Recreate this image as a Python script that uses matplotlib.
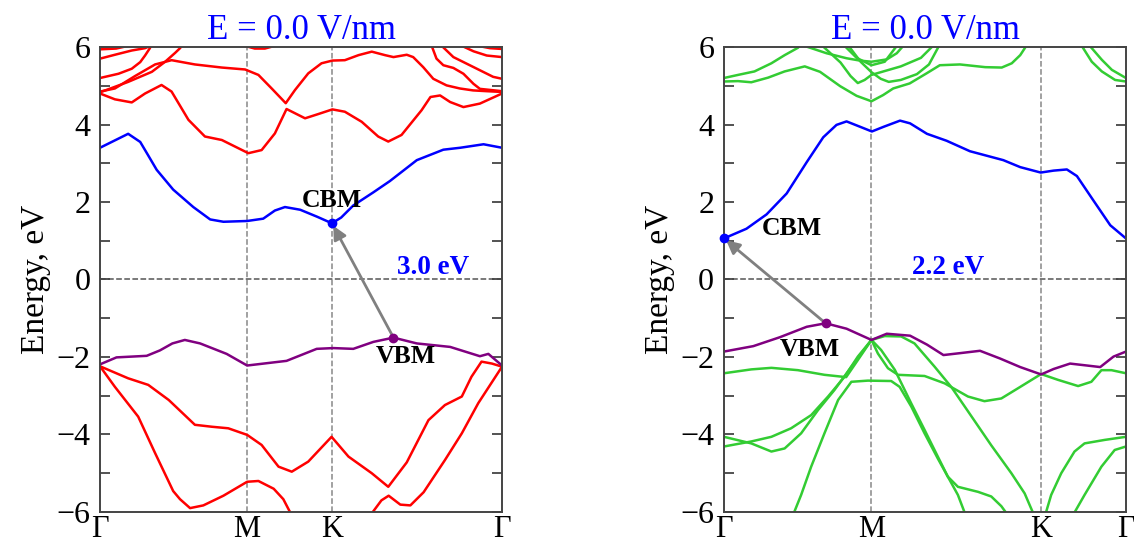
import numpy as np
import matplotlib.pyplot as plt

plt.rcParams['font.family'] = ['Liberation Serif', 'DejaVu Serif']

# high-symmetry points (fraction of k-path)
kpts_left = [0, 0.366, 0.577, 1.0]
kpts_right = [0, 0.367, 0.789, 1.0]
klabels = ['Γ', 'M', 'K', 'Γ']
field_title = 'E = 0.0 V/nm'
gap_left = '3.0 eV'
gap_right = '2.2 eV'

# ---- left panel: (k, E) ----
cb_left = [(0, 3.40), (0.035, 3.58), (0.070, 3.76), (0.100, 3.55), (0.120, 3.20), (0.141, 2.83),
           (0.182, 2.32), (0.232, 1.87), (0.274, 1.55), (0.307, 1.49), (0.366, 1.51), (0.406, 1.57),
           (0.435, 1.78), (0.460, 1.87), (0.498, 1.80), (0.540, 1.62), (0.577, 1.45), (0.600, 1.60),
           (0.630, 1.91), (0.680, 2.25), (0.721, 2.54), (0.788, 3.08), (0.854, 3.35), (0.896, 3.40),
           (0.954, 3.49), (1.0, 3.40)]
vb_left = [(0, -2.19), (0.041, -2.01), (0.116, -1.97), (0.149, -1.83), (0.180, -1.65), (0.211, -1.56),
           (0.249, -1.65), (0.315, -1.92), (0.366, -2.22), (0.464, -2.10), (0.539, -1.79), (0.580, -1.77),
           (0.630, -1.79), (0.680, -1.61), (0.730, -1.50), (0.788, -1.65), (0.871, -1.74), (0.945, -1.98),
           (0.966, -1.92), (1.0, -2.22)]
cbm_left = (0.577, 1.45)
vbm_left = (0.730, -1.50)

red_bands = [
    [(0, -2.24), (0.070, -2.55), (0.120, -2.72), (0.171, -3.11), (0.236, -3.75), (0.278, -3.80),
     (0.319, -3.84), (0.366, -4.01), (0.402, -4.27), (0.444, -4.83), (0.477, -4.96), (0.518, -4.70),
     (0.576, -4.06), (0.618, -4.57), (0.676, -5.00), (0.717, -5.35), (0.763, -4.72), (0.817, -3.63),
     (0.858, -3.24), (0.900, -3.02), (0.924, -2.51), (0.949, -2.12), (0.975, -2.17), (1.0, -2.25)],
    [(0, -2.24), (0.037, -2.77), (0.095, -3.54), (0.137, -4.48), (0.182, -5.46), (0.199, -5.67),
     (0.224, -5.90), (0.257, -5.83), (0.307, -5.58), (0.366, -5.22), (0.394, -5.20), (0.432, -5.40),
     (0.456, -5.67), (0.475, -6.05)],
    [(0.675, -6.05), (0.700, -5.70), (0.718, -5.58), (0.747, -5.81), (0.772, -5.83), (0.805, -5.49),
     (0.858, -4.66), (0.900, -3.97), (0.941, -3.19), (1.0, -2.25)],
    [(0, 4.80), (0.037, 4.65), (0.079, 4.57), (0.112, 4.80), (0.153, 5.02), (0.178, 4.85), (0.220, 4.12),
     (0.261, 3.69), (0.303, 3.60), (0.336, 3.43), (0.369, 3.26), (0.402, 3.34), (0.435, 3.77),
     (0.464, 4.40), (0.510, 4.16), (0.543, 4.27), (0.578, 4.39), (0.609, 4.33), (0.651, 4.07),
     (0.692, 3.69), (0.717, 3.56), (0.750, 3.73), (0.800, 4.37), (0.822, 4.71), (0.846, 4.75),
     (0.871, 4.58), (0.904, 4.45), (0.945, 4.54), (1.0, 4.80)],
    [(0, 4.85), (0.037, 4.93), (0.087, 5.25), (0.137, 5.55), (0.178, 5.66), (0.236, 5.55), (0.303, 5.47),
     (0.361, 5.42), (0.394, 5.28), (0.427, 4.93), (0.462, 4.55), (0.485, 4.89), (0.518, 5.32),
     (0.551, 5.58), (0.578, 5.65), (0.609, 5.66), (0.643, 5.79), (0.676, 5.88), (0.709, 5.79),
     (0.730, 5.74), (0.763, 5.80), (0.779, 5.74), (0.804, 5.48), (0.829, 5.18), (0.862, 5.01),
     (0.895, 4.93), (0.928, 4.88), (0.962, 4.86), (1.0, 4.84)],
    [(0, 4.83), (0.070, 5.10), (0.129, 5.36), (0.162, 5.62), (0.187, 5.85), (0.199, 5.97), (0.205, 6.05)],
    [(0, 5.20), (0.046, 5.31), (0.079, 5.44), (0.100, 5.61), (0.112, 5.78), (0.124, 5.97), (0.128, 6.05)],
    [(0, 5.70), (0.037, 5.80), (0.079, 5.91), (0.112, 5.97), (0.125, 6.03)],
    [(0, 5.94), (0.04, 5.96), (0.07, 6.03)],
    [(0.36, 6.03), (0.385, 5.96), (0.41, 5.96), (0.435, 6.03)],
    [(0.825, 6.03), (0.837, 5.70), (0.854, 5.53), (0.879, 5.46), (0.904, 5.31), (0.929, 5.05),
     (0.945, 4.92), (1.0, 4.86)],
    [(0.850, 6.03), (0.879, 5.74), (0.912, 5.57), (0.945, 5.40), (0.978, 5.23), (1.0, 5.18)],
    [(0.900, 6.03), (0.929, 5.89), (0.962, 5.78), (1.0, 5.74)],
    [(0.94, 6.03), (0.97, 5.97), (1.0, 5.95)],
]

# ---- right panel ----
cb_right = [(0, 1.06), (0.056, 1.31), (0.106, 1.68), (0.156, 2.22), (0.206, 3.03), (0.247, 3.67),
            (0.280, 3.99), (0.305, 4.08), (0.339, 3.94), (0.368, 3.82), (0.397, 3.94), (0.438, 4.10),
            (0.463, 4.03), (0.505, 3.76), (0.554, 3.58), (0.612, 3.31), (0.695, 3.08), (0.737, 2.90),
            (0.788, 2.76), (0.820, 2.81), (0.853, 2.84), (0.878, 2.67), (0.919, 2.04), (0.961, 1.40),
            (1.0, 1.06)]
vb_right = [(0, -1.86), (0.073, -1.72), (0.139, -1.49), (0.206, -1.22), (0.253, -1.13), (0.305, -1.27),
            (0.367, -1.56), (0.405, -1.40), (0.463, -1.45), (0.505, -1.68), (0.546, -1.95), (0.588, -1.90),
            (0.637, -1.84), (0.687, -2.04), (0.737, -2.26), (0.789, -2.45), (0.820, -2.31), (0.861, -2.17),
            (0.903, -2.22), (0.936, -2.26), (0.969, -1.99), (1.0, -1.86)]
cbm_right = (0.0, 1.06)
vbm_right = (0.253, -1.13)

green_bands = [
    [(0, -2.42), (0.068, -2.32), (0.118, -2.28), (0.184, -2.34), (0.250, -2.46), (0.304, -2.52),
     (0.333, -2.08), (0.367, -1.56), (0.400, -1.46), (0.441, -1.47), (0.474, -1.65), (0.524, -2.25),
     (0.566, -2.78), (0.607, -3.40), (0.665, -4.28), (0.715, -5.00), (0.748, -5.52), (0.770, -6.05)],
    [(0, -4.06), (0.068, -4.23), (0.118, -4.44), (0.151, -4.36), (0.192, -3.97), (0.234, -3.37),
     (0.275, -2.85), (0.317, -2.25), (0.367, -1.56), (0.391, -1.82), (0.425, -2.33), (0.466, -3.20),
     (0.499, -3.88), (0.532, -4.57), (0.557, -5.09), (0.582, -5.56), (0.600, -6.05)],
    [(0, -4.31), (0.068, -4.18), (0.118, -4.06), (0.167, -3.84), (0.217, -3.50), (0.259, -3.02),
     (0.300, -2.51), (0.333, -1.99), (0.367, -1.56), (0.383, -1.91), (0.408, -2.29), (0.433, -2.46),
     (0.499, -2.49), (0.549, -2.68), (0.607, -3.02), (0.648, -3.14), (0.690, -3.07), (0.731, -2.81),
     (0.789, -2.44), (0.831, -2.59), (0.881, -2.75), (0.914, -2.64), (0.939, -2.34), (0.964, -2.34),
     (1.0, -2.42)],
    [(0.173, -6.05), (0.192, -5.56), (0.217, -4.83), (0.250, -3.97), (0.284, -3.11), (0.317, -2.64),
     (0.358, -2.61), (0.416, -2.62), (0.437, -2.77), (0.466, -3.28), (0.499, -3.97), (0.532, -4.62),
     (0.557, -5.09), (0.582, -5.35), (0.632, -5.48), (0.665, -5.60), (0.690, -5.85), (0.704, -6.05)],
    [(0.800, -6.05), (0.814, -5.56), (0.839, -5.00), (0.872, -4.44), (0.897, -4.23), (0.947, -4.14),
     (1.0, -4.06)],
    [(0.870, -6.05), (0.897, -5.56), (0.939, -4.83), (0.972, -4.40), (1.0, -4.31)],
    [(0, 5.11), (0.035, 5.12), (0.068, 5.09), (0.110, 5.21), (0.151, 5.37), (0.201, 5.50), (0.239, 5.36),
     (0.289, 4.99), (0.330, 4.74), (0.367, 4.60), (0.396, 4.76), (0.421, 4.93), (0.462, 5.06),
     (0.504, 5.32), (0.537, 5.53), (0.587, 5.55), (0.650, 5.48), (0.691, 5.47), (0.716, 5.58),
     (0.737, 5.79), (0.749, 5.98), (0.752, 6.05)],
    [(0, 5.20), (0.035, 5.28), (0.076, 5.37), (0.118, 5.58), (0.151, 5.79), (0.184, 5.98), (0.19, 6.05)],
    [(0.20, 6.03), (0.255, 5.84), (0.305, 5.71), (0.338, 5.65), (0.367, 5.62), (0.405, 5.68),
     (0.430, 5.84), (0.446, 6.03)],
    [(0.245, 6.03), (0.29, 5.60), (0.315, 5.25), (0.333, 5.07), (0.350, 5.15), (0.367, 5.28),
     (0.40, 5.38), (0.44, 5.50), (0.49, 5.72), (0.52, 6.03)],
    [(0.31, 6.03), (0.34, 5.62), (0.367, 5.35), (0.39, 5.18), (0.41, 5.10), (0.44, 5.15), (0.48, 5.30),
     (0.51, 5.55), (0.535, 6.03)],
    [(0.30, 6.03), (0.33, 5.72), (0.367, 5.53), (0.40, 5.62), (0.43, 6.03)],
    [(0.890, 6.03), (0.915, 5.62), (0.940, 5.37), (0.973, 5.15), (1.0, 5.11)],
    [(0.910, 6.03), (0.940, 5.67), (0.965, 5.41), (1.0, 5.20)],
]

fig = plt.figure(figsize=(11.34, 5.46), dpi=100)
ax1 = fig.add_axes([0.0882, 0.0623, 0.3545, 0.8516])
ax2 = fig.add_axes([0.6384, 0.0623, 0.3545, 0.8516])

spine_col = '#444444'


def setup(ax, kpts):
    ax.set_xlim(0, 1)
    ax.set_ylim(-6, 6)
    for xk in kpts[1:-1]:
        ax.axvline(xk, color='#888888', ls='--', lw=1.1, zorder=1)
    ax.axhline(0, color='#555555', ls='--', lw=1.1, zorder=1)
    ax.set_xticks(kpts)
    ax.set_xticklabels(klabels, fontsize=22)
    ax.tick_params(axis='x', direction='in', length=0, pad=2)
    ax.set_yticks([-6, -4, -2, 0, 2, 4, 6])
    ax.set_yticks([-5, -3, -1, 1, 3, 5], minor=True)
    ax.set_yticklabels(['\u22126', '\u22124', '\u22122', '0', '2', '4', '6'], fontsize=23)
    ax.tick_params(axis='y', which='both', direction='in', length=7, width=1.3,
                   left=True, right=True, color=spine_col, pad=7)
    for s in ax.spines.values():
        s.set_color(spine_col)
        s.set_linewidth(1.4)
    ax.set_ylabel('Energy, eV', fontsize=24, labelpad=4)
    ax.set_title(field_title, fontsize=25, color='#0000ff', pad=6)


def draw(ax, pts, col):
    arr = np.array(pts)
    ax.plot(arr[:, 0], arr[:, 1], color=col, lw=1.8, zorder=2,
            solid_joinstyle='round', solid_capstyle='round')


setup(ax1, kpts_left)
setup(ax2, kpts_right)

for b in red_bands:
    draw(ax1, b, '#ff0000')
draw(ax1, cb_left, '#0000ff')
draw(ax1, vb_left, '#800080')

for b in green_bands:
    draw(ax2, b, '#33cc33')
draw(ax2, cb_right, '#0000ff')
draw(ax2, vb_right, '#800080')

for ax, cbm, vbm in [(ax1, cbm_left, vbm_left), (ax2, cbm_right, vbm_right)]:
    ax.annotate('', xy=cbm, xytext=vbm,
                arrowprops=dict(arrowstyle='-|>', color='#808080', lw=2.0,
                                mutation_scale=20, shrinkA=0, shrinkB=2), zorder=3)
    ax.plot(*cbm, 'o', color='#0000ff', ms=6, zorder=4, clip_on=False)
    ax.plot(*vbm, 'o', color='#800080', ms=6, zorder=4)

ax1.text(0.576, 2.05, 'CBM', fontsize=18.5, fontweight='bold', ha='center', va='center')
ax1.text(0.761, -1.99, 'VBM', fontsize=18.5, fontweight='bold', ha='center', va='center')
ax1.text(0.829, 0.30, gap_left, fontsize=19.5, fontweight='bold', color='#0000ff', ha='center', va='center')

ax2.text(0.168, 1.32, 'CBM', fontsize=18.5, fontweight='bold', ha='center', va='center')
ax2.text(0.214, -1.80, 'VBM', fontsize=18.5, fontweight='bold', ha='center', va='center')
ax2.text(0.557, 0.30, gap_right, fontsize=19.5, fontweight='bold', color='#0000ff', ha='center', va='center')

fig.savefig('out.png', dpi=100)
